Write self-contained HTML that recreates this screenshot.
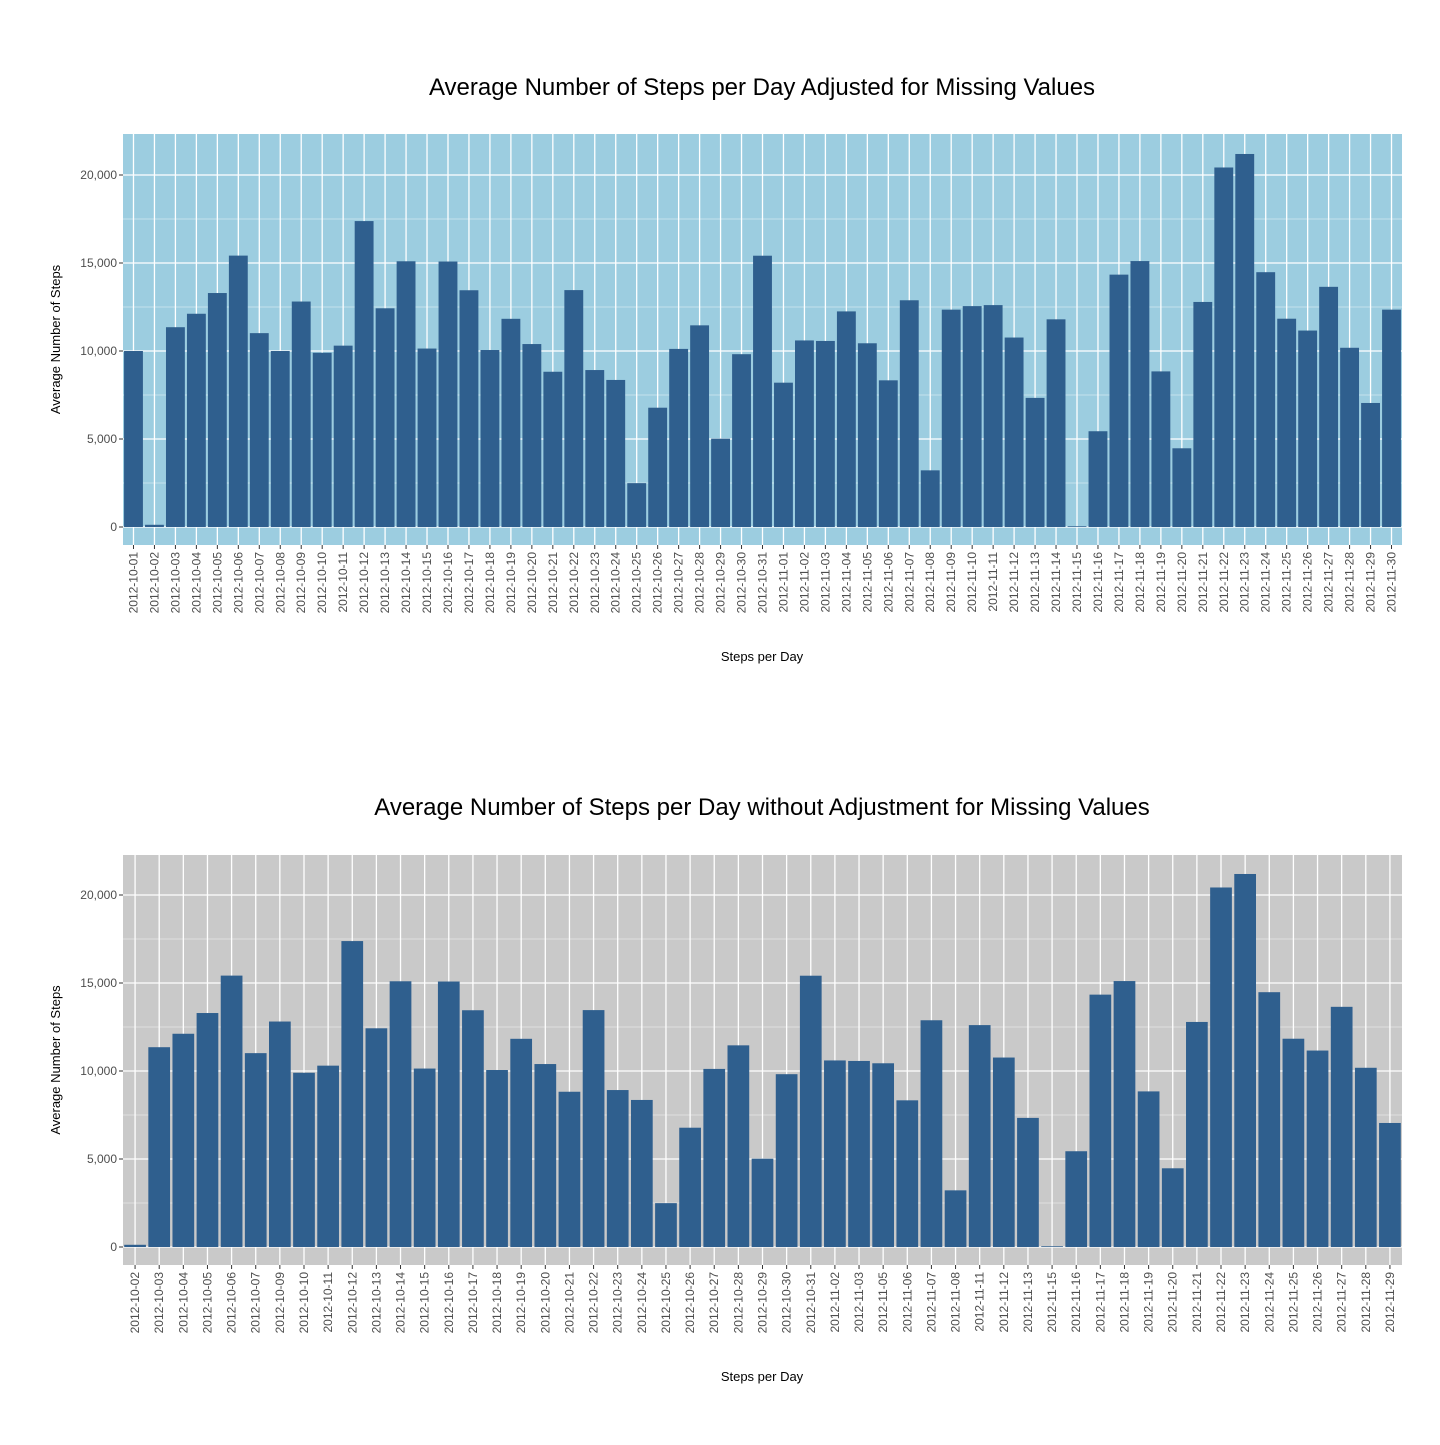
<!DOCTYPE html>
<html><head><meta charset="utf-8"><style>
body{margin:0;background:#fff;font-family:"Liberation Sans",Arial,sans-serif}
svg text{font-family:"Liberation Sans",Arial,sans-serif}
</style></head><body>
<svg id="s" width="1440" height="1440" xmlns="http://www.w3.org/2000/svg"></svg>
<script>
const datesTop=["2012-10-01","2012-10-02","2012-10-03","2012-10-04","2012-10-05","2012-10-06","2012-10-07","2012-10-08","2012-10-09","2012-10-10","2012-10-11","2012-10-12","2012-10-13","2012-10-14","2012-10-15","2012-10-16","2012-10-17","2012-10-18","2012-10-19","2012-10-20","2012-10-21","2012-10-22","2012-10-23","2012-10-24","2012-10-25","2012-10-26","2012-10-27","2012-10-28","2012-10-29","2012-10-30","2012-10-31","2012-11-01","2012-11-02","2012-11-03","2012-11-04","2012-11-05","2012-11-06","2012-11-07","2012-11-08","2012-11-09","2012-11-10","2012-11-11","2012-11-12","2012-11-13","2012-11-14","2012-11-15","2012-11-16","2012-11-17","2012-11-18","2012-11-19","2012-11-20","2012-11-21","2012-11-22","2012-11-23","2012-11-24","2012-11-25","2012-11-26","2012-11-27","2012-11-28","2012-11-29","2012-11-30"];
const stepsTop=[10000,126,11352,12116,13294,15420,11015,10000,12811,9900,10304,17382,12426,15098,10139,15084,13452,10056,11829,10395,8821,13460,8918,8355,2492,6778,10119,11458,5018,9819,15414,8200,10600,10571,12250,10439,8334,12883,3219,12350,12550,12608,10765,7336,11800,41,5441,14339,15110,8841,4472,12787,20427,21194,14478,11834,11162,13646,10183,7047,12350];
const datesBot=["2012-10-02","2012-10-03","2012-10-04","2012-10-05","2012-10-06","2012-10-07","2012-10-09","2012-10-10","2012-10-11","2012-10-12","2012-10-13","2012-10-14","2012-10-15","2012-10-16","2012-10-17","2012-10-18","2012-10-19","2012-10-20","2012-10-21","2012-10-22","2012-10-23","2012-10-24","2012-10-25","2012-10-26","2012-10-27","2012-10-28","2012-10-29","2012-10-30","2012-10-31","2012-11-02","2012-11-03","2012-11-05","2012-11-06","2012-11-07","2012-11-08","2012-11-11","2012-11-12","2012-11-13","2012-11-15","2012-11-16","2012-11-17","2012-11-18","2012-11-19","2012-11-20","2012-11-21","2012-11-22","2012-11-23","2012-11-24","2012-11-25","2012-11-26","2012-11-27","2012-11-28","2012-11-29"];
const stepsBot=[126,11352,12116,13294,15420,11015,12811,9900,10304,17382,12426,15098,10139,15084,13452,10056,11829,10395,8821,13460,8918,8355,2492,6778,10119,11458,5018,9819,15414,10600,10571,10439,8334,12883,3219,12608,10765,7336,41,5441,14339,15110,8841,4472,12787,20427,21194,14478,11834,11162,13646,10183,7047];
const yTicks=[0,5000,10000,15000,20000];
const yTickLabels=["0","5,000","10,000","15,000","20,000"];
const NS="http://www.w3.org/2000/svg";
const svg=document.getElementById('s');
function el(t,a,p){const e=document.createElementNS(NS,t);for(const k in a)e.setAttribute(k,a[k]);(p||svg).appendChild(e);return e;}
function panel(cfg){
 const g=el('g',{});
 
 
 const {x0,x1,top,bot,zeroY,dates,vals,bg}=cfg;
 const k=(zeroY-(cfg.y20))/20000;
 const y=v=>zeroY-v*k;
 const n=dates.length,bw=(x1-x0)/n;
 const xc=i=>x0+bw*(i+0.5);
 const bgR=el('rect',{x:x0,y:top,width:x1-x0,height:bot-top,fill:bg},g);
 
 for(let v=2500;v<22500;v+=5000){if(y(v)>top)el('line',{x1:x0,x2:x1,y1:y(v),y2:y(v),stroke:'#fff','stroke-width':0.6,opacity:0.8},g);}
 yTicks.forEach((v,i)=>{
  el('line',{x1:x0,x2:x1,y1:y(v),y2:y(v),stroke:'#fff','stroke-width':1.3},g);
  el('line',{x1:x0-4,x2:x0,y1:y(v),y2:y(v),stroke:'#333','stroke-width':1},g);
  const t=el('text',{x:x0-6,y:y(v)+4,'text-anchor':'end','font-size':12,fill:'#4d4d4d'},g);t.textContent=yTickLabels[i];
  
 });
 dates.forEach((d,i)=>{
  el('line',{x1:xc(i),x2:xc(i),y1:top,y2:bot,stroke:'#fff','stroke-width':1.3},g);
 });
 dates.forEach((d,i)=>{
  const r=el('rect',{x:xc(i)-bw*0.45,y:y(vals[i]),width:bw*0.9,height:zeroY-y(vals[i]),fill:'#2f5f8e'},g);
  
  
  el('line',{x1:xc(i),x2:xc(i),y1:bot,y2:bot+4,stroke:'#333','stroke-width':1},g);
  const t=el('text',{x:0,y:0,'text-anchor':'end','font-size':12,fill:'#4d4d4d',transform:`translate(${xc(i)+4},${bot+7}) rotate(-90)`},g);
  t.textContent=d;
  
 });
 const ti=el('text',{x:762,y:cfg.titleY,'text-anchor':'middle','font-size':24,fill:'#000'},g);ti.textContent=cfg.title;
 
 const yt=el('text',{x:0,y:0,'text-anchor':'middle','font-size':13,fill:'#000',transform:`translate(60,${(top+bot)/2}) rotate(-90)`},g);yt.textContent='Average Number of Steps';
 
 const xt=el('text',{x:762,y:cfg.xtY,'text-anchor':'middle','font-size':13,fill:'#000'},g);xt.textContent='Steps per Day';
 
}
panel({name:'adjusted-panel',x0:123,x1:1402,top:134,bot:545,zeroY:527,y20:175,dates:datesTop,vals:stepsTop,bg:'#9ccde0',title:'Average Number of Steps per Day Adjusted for Missing Values',titleY:95,xtY:661});
panel({name:'unadjusted-panel',x0:123,x1:1402,top:855,bot:1265,zeroY:1247,y20:895,dates:datesBot,vals:stepsBot,bg:'#c9c9c9',title:'Average Number of Steps per Day without Adjustment for Missing Values',titleY:815,xtY:1381});
</script>
</body></html>
